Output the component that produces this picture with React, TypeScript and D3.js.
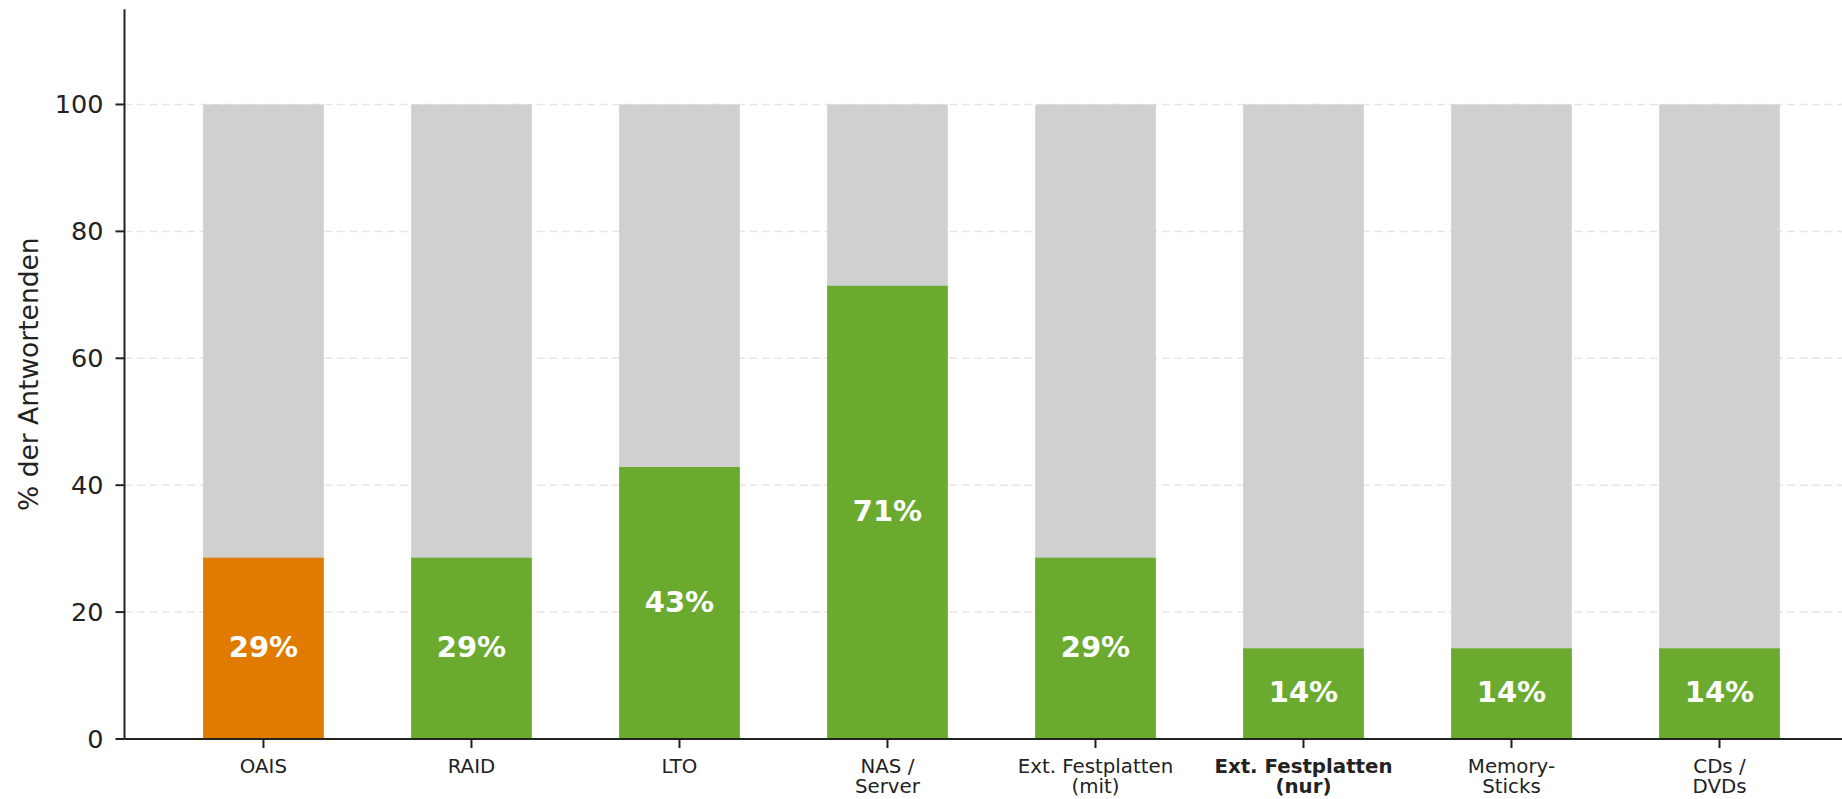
import React from "react";
import * as d3 from "d3";

const categories: string[][] = [
  ["OAIS"],
  ["RAID"],
  ["LTO"],
  ["NAS /", "Server"],
  ["Ext. Festplatten", "(mit)"],
  ["Ext. Festplatten", "(nur)"],
  ["Memory-", "Sticks"],
  ["CDs /", "DVDs"],
];
const boldCategory = [false, false, false, false, false, true, false, false];
const values = [28.57, 28.57, 42.86, 71.43, 28.57, 14.29, 14.29, 14.29];
const valueLabels = ["29%", "29%", "43%", "71%", "29%", "14%", "14%", "14%"];
const highlight = [true, false, false, false, false, false, false, false];
const totals = [100, 100, 100, 100, 100, 100, 100, 100];
const yTicks = [0, 20, 40, 60, 80, 100];
const yLabel = "% der Antwortenden";

const W = 1842;
const H = 799;
const FONT = "'DejaVu Sans', sans-serif";

export default function App() {
  const x0 = 124.5;
  const x = d3.scaleLinear().domain([-0.668, 7.589]).range([x0, W]);
  const y = d3.scaleLinear().domain([0, 115]).range([739, 9.3]);
  const step = x(1) - x(0);
  const bw = step * 0.58;
  const text = "#222222";

  return (
    <svg
      width={W}
      height={H}
      style={{ position: "absolute", left: 0, top: 0, background: "#fff" }}
      fontFamily={FONT}
    >
      {/* gridlines */}
      {yTicks
        .filter((t) => t > 0)
        .map((t) => (
          <line
            key={"g" + t}
            x1={x0}
            x2={W}
            y1={y(t)}
            y2={y(t)}
            stroke="#e6e6e6"
            strokeWidth={1.5}
            strokeDasharray="8,4.5"
          />
        ))}
      {/* background bars */}
      {totals.map((v, i) => (
        <rect
          key={"bg" + i}
          x={x(i) - bw / 2}
          y={y(v)}
          width={bw}
          height={y(0) - y(v)}
          fill="#d0d0d0"
        />
      ))}
      {/* value bars */}
      {values.map((v, i) => (
        <rect
          key={"b" + i}
          x={x(i) - bw / 2}
          y={y(v)}
          width={bw}
          height={y(0) - y(v)}
          fill={highlight[i] ? "#e07b00" : "#6aaa2f"}
        />
      ))}
      {values.map((v, i) => (
        <text
          key={"l" + i}
          x={x(i)}
          y={y(v / 2) - 1.5}
          textAnchor="middle"
          dominantBaseline="central"
          fill="#ffffff"
          fontWeight="bold"
          fontSize={29}
        >
          {valueLabels[i]}
        </text>
      ))}
      {/* axes */}
      <line x1={x0} x2={x0} y1={y(115)} y2={y(0)} stroke={text} strokeWidth={2} />
      <line x1={x0} x2={W} y1={y(0)} y2={y(0)} stroke={text} strokeWidth={2} />
      {yTicks.map((t) => (
        <g key={"yt" + t}>
          <line x1={x0 - 9} x2={x0} y1={y(t)} y2={y(t)} stroke={text} strokeWidth={2} />
          <text
            x={x0 - 21}
            y={y(t)}
            textAnchor="end"
            dominantBaseline="central"
            fontSize={25.5}
            fill={text}
          >
            {t}
          </text>
        </g>
      ))}
      {categories.map((lines, i) => (
        <g key={"xt" + i}>
          <line x1={x(i)} x2={x(i)} y1={y(0)} y2={y(0) + 9} stroke={text} strokeWidth={2} />
          {lines.map((ln, j) => (
            <text
              key={j}
              x={x(i)}
              y={766 + j * 20.5}
              textAnchor="middle"
              dominantBaseline="central"
              fontSize={19.8}
              fontWeight={boldCategory[i] ? "bold" : "normal"}
              fill={text}
            >
              {ln}
            </text>
          ))}
        </g>
      ))}
      <text
        transform={`translate(28,${(y(0) + y(115)) / 2}) rotate(-90)`}
        textAnchor="middle"
        dominantBaseline="central"
        fontSize={26.5}
        fill={text}
      >
        {yLabel}
      </text>
    </svg>
  );
}
